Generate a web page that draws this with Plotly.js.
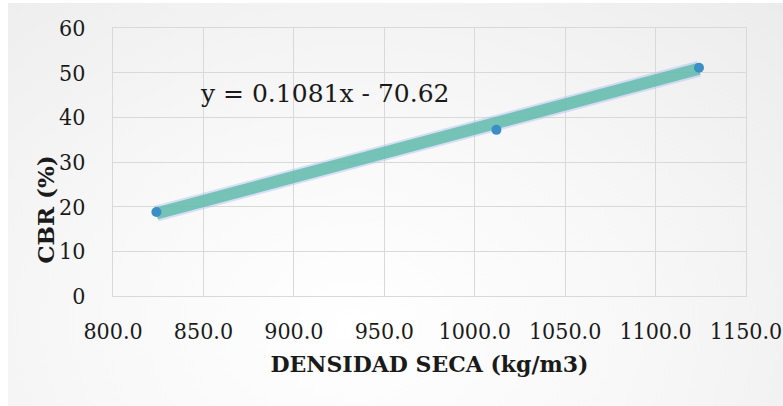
<!DOCTYPE html>
<html>
<head>
<meta charset="utf-8">
<script src="https://cdn.plot.ly/plotly-3.0.1.min.js"></script>
<style>
  html, body { margin: 0; padding: 0; background: #ffffff; }
  #bg { position: absolute; left: 8px; top: 3px; width: 775px; height: 403px;
        background: radial-gradient(ellipse at 45% 80%, #ffffff 0%, #f8f8f8 45%, #ececec 100%); }
  #chart { position: absolute; left: 0; top: 0; width: 783px; height: 406px; }
</style>
</head>
<body>
<div id="bg"></div>
<div id="chart"></div>
<script>
// Data
const densidad = [824, 1012, 1124];          // DENSIDAD SECA (kg/m3)
const cbr = [18.8, 37.2, 51.1];              // CBR (%)
const trendSlope = 0.1081;                   // from the displayed equation
const trendIntercept = -70.62;
const equationText = 'y = 0.1081x - 70.62';
const xTitle = 'DENSIDAD SECA (kg/m3)';
const yTitle = 'CBR (%)';

const xMin = Math.min(...densidad), xMax = Math.max(...densidad);
const trendX = [xMin, xMax];
const trendY = trendX.map(v => trendSlope * v + trendIntercept);

const fontTick = 'DejaVu Serif Condensed';
const fontTitle = 'DejaVu Serif';
const fontEq = 'DejaVu Serif';

const traces = [
  { x: trendX, y: trendY, mode: 'lines', type: 'scatter', hoverinfo: 'skip',
    line: { color: 'rgba(170,190,240,0.45)', width: 16 }, showlegend: false },
  { x: trendX, y: trendY, mode: 'lines', type: 'scatter',
    line: { color: 'rgba(95,188,168,0.82)', width: 12 }, showlegend: false },
  { x: densidad, y: cbr, mode: 'markers', type: 'scatter',
    marker: { color: '#3b8fc6', size: 10 }, showlegend: false }
];

const layout = {
  width: 783, height: 406,
  margin: { l: 113, r: 37, t: 28, b: 110 },
  paper_bgcolor: 'rgba(0,0,0,0)',
  plot_bgcolor: 'rgba(0,0,0,0)',
  font: { family: fontTick, color: '#1a1a1a' },
  xaxis: {
    range: [800, 1150], dtick: 50, tick0: 800, tickformat: '.1f',
    showgrid: true, gridcolor: '#d9d9d9', gridwidth: 1,
    zeroline: false, showline: true, mirror: true, linecolor: '#d9d9d9', linewidth: 1,
    ticks: '', ticklabelstandoff: 14,
    tickfont: { family: fontTick, size: 23, color: '#1a1a1a' },
    title: { text: '<b>' + xTitle + '</b>', font: { family: fontTitle, size: 22, color: '#1a1a1a' }, standoff: 14 }
  },
  yaxis: {
    range: [0, 60], dtick: 10, tick0: 0,
    showgrid: true, gridcolor: '#d9d9d9', gridwidth: 1,
    zeroline: false, showline: true, mirror: true, linecolor: '#d9d9d9', linewidth: 1,
    ticks: '', ticklabelstandoff: 22,
    tickfont: { family: fontTick, size: 23, color: '#1a1a1a' }
  },
  annotations: [
    { text: '<b>' + yTitle + '</b>', textangle: -90, xref: 'paper', yref: 'paper',
      x: -0.106, y: 0.325, xanchor: 'center', yanchor: 'middle', showarrow: false,
      font: { family: fontTitle, size: 23, color: '#1a1a1a' } },
    { text: equationText, xref: 'paper', yref: 'paper', x: 0.135, y: 0.755,
      xanchor: 'left', yanchor: 'middle', showarrow: false,
      font: { family: fontEq, size: 25, color: '#1a1a1a' } }
  ]
};

Plotly.newPlot('chart', traces, layout, { displayModeBar: false, staticPlot: true });
</script>
</body>
</html>
